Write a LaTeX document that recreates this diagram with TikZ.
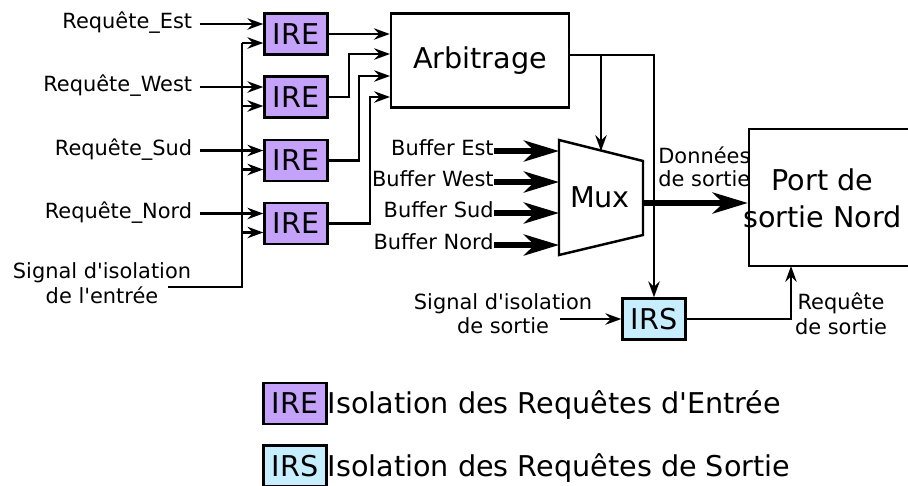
\documentclass[tikz,border=0pt]{standalone}
\usepackage{fontspec}
\setmainfont{DejaVu Sans}[Ligatures=TeXOff]
\usetikzlibrary{arrows.meta}
\usetikzlibrary{positioning}
\definecolor{ireclr}{RGB}{196,162,250}
\definecolor{irsclr}{RGB}{198,238,255}

\begin{document}
\begin{tikzpicture}[scale=0.2]
		\tikzstyle{every node}+=[inner sep=0pt]
		\tikzstyle{lbl}=[font=\fontsize{11.9}{14}\selectfont]
		\tikzstyle{big}=[font=\fontsize{16.3}{21}\selectfont]
		\tikzstyle{wire}=[black, line width=1.4pt]
		\tikzstyle{sig}=[wire, -{Stealth[length=9pt,width=6.5pt,inset=3pt]}]
		\tikzstyle{fat}=[black, line width=3pt, -{Stealth[length=20pt,width=12pt,inset=6pt]}]
		\tikzstyle{blk}=[draw=black, line width=1.4pt, big]
		\tikzstyle{ire}=[blk, fill=ireclr, minimum width=1.26cm, minimum height=0.82cm]
		\tikzstyle{irs}=[blk, fill=irsclr, minimum width=1.26cm, minimum height=0.82cm]
		\useasboundingbox (0,0) rectangle (90.8,-48.5);
		\node [blk, minimum width=3.56cm, minimum height=1.88cm] (arb) at (48.0,-6.05) {Arbitrage};
		\foreach \i/\y/\d in {1/-3.4/Est, 2/-9.7/West, 3/-16.05/Sud, 4/-22.35/Nord} {
			\node [ire] (ire\i) at (29.6,\y) {IRE};
			\node [lbl, anchor=mid east] (rq\i) at (19.25,\y+1.0) {Requête\_\d};
			\coordinate (bus\i) at (24.2,\y-0.9);
			\draw [sig, shorten <=4pt] (rq\i.mid east) -- (rq\i.mid east -| ire\i.west);
			\draw [sig] (bus\i) -- (bus\i -| ire\i.west);
		}
		\node [lbl, align=center] (sigE) at (10.2,-28.3) {Signal d'isolation\\de l'entrée};
		\coordinate (sigEend) at (16.8,-28.7);
		\draw [wire] (sigEend) -| (bus1);
		\draw [sig] (ire1.east) -- (ire1.east -| arb.west);
		\foreach \i/\j/\y in {2/2.0/-5.4, 3/3.0/-7.6, 4/4.1/-9.7} {
			\coordinate (arb\i) at (39.0,\y);
			\draw [sig] (ire\i.east) -- ++(\j,0) |- (arb\i);
		}
		\coordinate (m1) at (55.9,-14.0);
		\coordinate (m2) at (64.3,-16.1);
		\coordinate (m3) at (64.3,-23.5);
		\coordinate (m4) at (55.9,-25.5);
		\draw [wire] (m1) -- (m2) -- (m3) -- (m4) -- cycle;
		\node [big] (mux) at (60.0,-19.76) {Mux};
		\foreach \i/\y/\d in {1/-15.1/Est, 2/-18.2/West, 3/-21.3/Sud, 4/-24.5/Nord} {
			\node [lbl, anchor=mid east] (buf\i) at (49.4,\y) {Buffer \d};
			\draw [fat] (buf\i.mid east) -- (buf\i.mid east -| m1);
		}
		\node [irs] (irs) at (65.4,-31.9) {IRS};
		\coordinate (arbo) at (57.0,-5.5);
		\coordinate (tap) at (60.1,-5.5);
		\coordinate (muxtop) at (60.1,-15.1);
		\draw [sig] (arbo) -| (irs.north);
		\draw [sig] (tap) -- (muxtop);
		\node [blk, minimum width=3.26cm, minimum height=2.74cm] (port) at (83.05,-19.75) {};
		\node [big, align=center] (porttxt) at (82.25,-19.85) {Port de\\sortie Nord};
		\coordinate (muxo) at (64.3,-20.3);
		\draw [fat] (muxo) -- (muxo -| port.west);
		\node [lbl, align=left, anchor=west, font=\fontsize{11.9}{13}\selectfont] (dout) at (65.8,-16.65) {Données\\de sortie};
		\node [lbl, align=center] (sigS) at (50.3,-31.35) {Signal d'isolation\\de sortie};
		\coordinate (sigSo) at (56.0,-31.9);
		\draw [sig] (sigSo) -- (irs.west);
		\coordinate (rqin) at (79.1,-26.6);
		\draw [sig] (irs.east) -| (rqin);
		\node [lbl, align=center] (rqS) at (84.1,-31.35) {Requête\\de sortie};
		\node [ire] (keyE) at (29.5,-40.35) {IRE};
		\node [big, anchor=base west] (keyEtxt) at ([xshift=-1pt]keyE.base east) {Isolation des Requêtes d'Entrée};
		\node [irs] (keyS) at (29.5,-46.6) {IRS};
		\node [big, anchor=base west] (keyStxt) at ([xshift=-1pt]keyS.base east) {Isolation des Requêtes de Sortie};
\end{tikzpicture}
\end{document}
